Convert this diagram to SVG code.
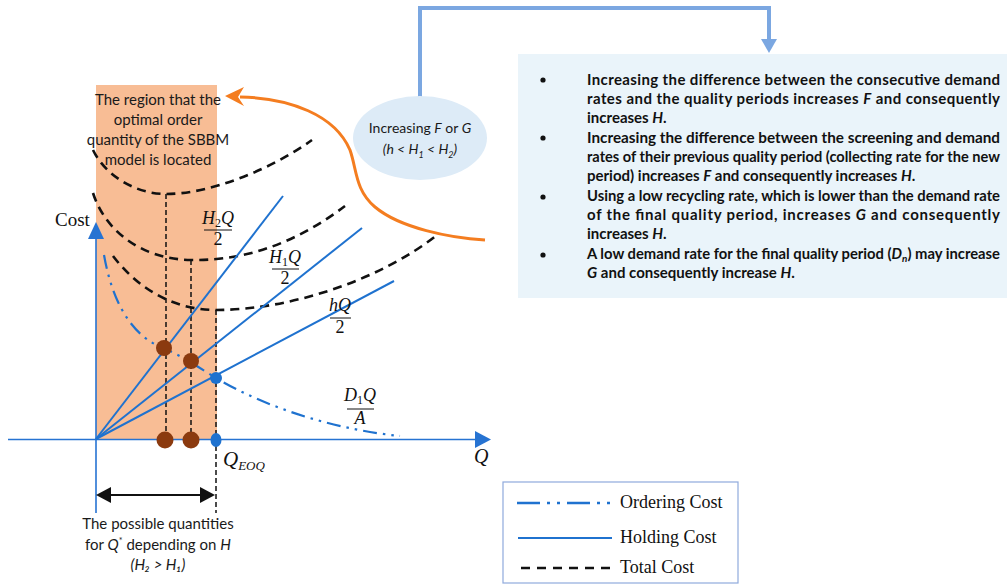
<svg xmlns="http://www.w3.org/2000/svg" width="1007" height="586" viewBox="0 0 1007 586">
<style>
.sans{font-family:Lato,"Liberation Sans",sans-serif;fill:#1a1a1a}
.serif{font-family:"Liberation Serif","DejaVu Serif",serif;fill:#111}
.math{font-family:"Liberation Serif","DejaVu Serif",serif;font-style:italic;font-size:18px;fill:#111}
.up{font-style:normal}
.total{fill:none;stroke:#111;stroke-width:2.6;stroke-dasharray:9 6}
.guide{fill:none;stroke:#111;stroke-width:1.5;stroke-dasharray:5 3}
.hold{fill:none;stroke:#1F72CF;stroke-width:2}
.order{fill:none;stroke:#1F72CF;stroke-width:2.2;stroke-dasharray:14 6 2.5 6 2.5 6}
.axis{fill:none;stroke:#2673D2;stroke-width:1.6}
.frac{stroke:#111;stroke-width:1}
.bul{font-family:Lato,"Liberation Sans",sans-serif;font-weight:bold;font-size:15px;fill:#111}
.it{font-style:italic}
</style>

<!-- orange region -->
<g id="region">
<rect x="96" y="85" width="121" height="355" fill="#F8BD95"/>
<text class="sans" font-size="15" text-anchor="middle"><tspan x="158" y="105">The region that the</tspan><tspan x="158" y="125">optimal order</tspan><tspan x="158" y="145">quantity of the SBBM</tspan><tspan x="158" y="165">model is located</tspan></text>
</g>

<!-- axes -->
<g id="axes">
<line class="axis" x1="96" y1="236" x2="96" y2="513"/>
<polygon points="88,239 104,239 96,222" fill="#2673D2"/>
<line class="axis" x1="8" y1="439.5" x2="477" y2="439.5"/>
<polygon points="475,431 475,448 491,439.5" fill="#2673D2"/>
<text class="serif" x="55" y="226" font-size="19">Cost</text>
<text class="serif" x="474" y="463" font-size="20" font-style="italic">Q</text>
<text class="serif" x="223" y="466" font-size="21" font-style="italic">Q<tspan font-size="13" dy="4">EOQ</tspan></text>
</g>

<!-- connectors / curves -->
<g id="connectors">
<path class="total" d="M93,150 C105,175 135,194 166,194 C210,194 270,170 312,140"/>
<path class="total" d="M93,193 C105,230 140,259 191,260 C250,261 300,240 345,206"/>
<path class="total" d="M113,256 C135,285 170,310 216,310 C290,310 380,280 437,235"/>
<line class="guide" x1="166" y1="194" x2="166" y2="432"/>
<line class="guide" x1="191" y1="260" x2="191" y2="432"/>
<line class="guide" x1="216" y1="310" x2="216" y2="513"/>
<line class="hold" x1="96" y1="439" x2="283" y2="196"/>
<line class="hold" x1="96" y1="439" x2="362" y2="228"/>
<line class="hold" x1="96" y1="439" x2="394" y2="281"/>
<path class="order" d="M104,255 C112,300 130,335 163,348 C180,355 200,368 216,378 C270,410 340,430 400,436"/>
<!-- double arrow -->
<line x1="108" y1="495" x2="203" y2="495" stroke="#111" stroke-width="2"/>
<polygon points="96,495 111,487 111,503" fill="#111"/>
<polygon points="215,495 200,487 200,503" fill="#111"/>
<!-- orange arrow -->
<path d="M485,240 C450,238 400,228 375,207 C355,190 357,170 350,150 C335,115 290,98 240,97" fill="none" stroke="#F47D20" stroke-width="3"/>
<polygon points="225,96 244,87 238,97 244,106" fill="#F47D20"/>
<!-- blue connector -->
<path d="M420,97 L420,8 L769,8 L769,40" fill="none" stroke="#7BA7E1" stroke-width="4"/>
<polygon points="761,39 777,39 769,53" fill="#7BA7E1"/>
</g>

<!-- dots -->
<g id="points">
<circle cx="164" cy="348" r="8" fill="#8B3A0F"/>
<circle cx="191" cy="361" r="8" fill="#8B3A0F"/>
<circle cx="216" cy="378" r="6" fill="#1F72CF"/>
<circle cx="165" cy="440" r="8.5" fill="#8B3A0F"/>
<circle cx="191" cy="440" r="8.5" fill="#8B3A0F"/>
<ellipse cx="216" cy="440" rx="5.5" ry="7" fill="#1F72CF"/>
</g>

<!-- fraction labels -->
<g id="labels">
<text class="math" x="218" y="224" text-anchor="middle">H<tspan class="up" font-size="12" dy="3">2</tspan><tspan dy="-3">Q</tspan></text>
<line class="frac" x1="204" y1="230" x2="232" y2="230"/>
<text class="math up" x="218" y="245" text-anchor="middle">2</text>
<text class="math" x="285" y="263" text-anchor="middle">H<tspan class="up" font-size="12" dy="3">1</tspan><tspan dy="-3">Q</tspan></text>
<line class="frac" x1="272" y1="269" x2="299" y2="269"/>
<text class="math up" x="285" y="284" text-anchor="middle">2</text>
<text class="math" x="340" y="311" text-anchor="middle">hQ</text>
<line class="frac" x1="330" y1="318" x2="351" y2="318"/>
<text class="math up" x="340" y="333" text-anchor="middle">2</text>
<text class="math" x="360" y="401" text-anchor="middle">D<tspan class="up" font-size="12" dy="3">1</tspan><tspan dy="-3">Q</tspan></text>
<line class="frac" x1="347" y1="409" x2="374" y2="409"/>
<text class="math" x="360" y="424" text-anchor="middle">A</text>
</g>

<!-- bottom text -->
<g id="possible">
<text class="sans" font-size="15" text-anchor="middle"><tspan x="158" y="529">The possible quantities</tspan><tspan x="158" y="550">for <tspan class="it">Q</tspan><tspan font-size="9" dy="-6">*</tspan><tspan dy="6"> depending on </tspan><tspan class="it">H</tspan></tspan><tspan x="158" y="570" class="it">(H₂ &gt; H₁)</tspan></text>
</g>

<!-- ellipse -->
<g id="cause">
<ellipse cx="420" cy="138" rx="67" ry="42" fill="#DDEBF7"/>
<text class="sans" font-size="14" text-anchor="middle" fill="#333"><tspan x="420" y="133">Increasing <tspan class="it">F</tspan> or <tspan class="it">G</tspan></tspan><tspan x="420" y="154" class="it">(h &lt; H<tspan font-size="9" dy="4">1</tspan><tspan dy="-4"> &lt; H</tspan><tspan font-size="9" dy="4">2</tspan><tspan dy="-4">)</tspan></tspan></text>
</g>

<!-- effects box -->
<g id="effects">
<rect x="518" y="54" width="489" height="244" fill="#EAF4FA"/>
<circle cx="543" cy="80" r="2.6" fill="#111"/>
<circle cx="543" cy="138" r="2.6" fill="#111"/>
<circle cx="543" cy="197" r="2.6" fill="#111"/>
<circle cx="543" cy="255" r="2.6" fill="#111"/>
<text class="bul" x="587" y="85" textLength="413" lengthAdjust="spacing">Increasing the difference between the consecutive demand</text>
<text class="bul" x="587" y="104" textLength="413" lengthAdjust="spacing">rates and the quality periods increases <tspan class="it">F</tspan> and consequently</text>
<text class="bul" x="587" y="123">increases <tspan class="it">H</tspan>.</text>
<text class="bul" x="587" y="143" textLength="413" lengthAdjust="spacingAndGlyphs">Increasing the difference between the screening and demand</text>
<text class="bul" x="587" y="162" font-size="13.6" textLength="413" lengthAdjust="spacingAndGlyphs">rates of their previous quality period (collecting rate for the new</text>
<text class="bul" x="587" y="181">period) increases <tspan class="it">F</tspan> and consequently increases <tspan class="it">H</tspan>.</text>
<text class="bul" x="587" y="201" textLength="413" lengthAdjust="spacingAndGlyphs">Using a low recycling rate, which is lower than the demand rate</text>
<text class="bul" x="587" y="220" textLength="413" lengthAdjust="spacing">of the final quality period, increases <tspan class="it">G</tspan> and consequently</text>
<text class="bul" x="587" y="239">increases <tspan class="it">H</tspan>.</text>
<text class="bul" x="587" y="259" textLength="413" lengthAdjust="spacingAndGlyphs">A low demand rate for the final quality period (<tspan class="it">D</tspan><tspan class="it" font-size="10" dy="3">n</tspan><tspan dy="-3">) may increase</tspan></text>
<text class="bul" x="587" y="278"><tspan class="it">G</tspan> and consequently increase <tspan class="it">H</tspan>.</text>
</g>

<!-- legend -->
<g id="legend">
<rect x="503" y="482" width="235" height="101" fill="#fff" stroke="#8FAADC" stroke-width="1.2"/>
<line x1="517" y1="503" x2="612" y2="503" stroke="#1F72CF" stroke-width="2.4" stroke-dasharray="23 7 3 7 3 7"/>
<line x1="518" y1="538" x2="612" y2="538" stroke="#1F72CF" stroke-width="2"/>
<line x1="521" y1="568" x2="612" y2="568" stroke="#111" stroke-width="2.6" stroke-dasharray="9 7"/>
<text class="serif" x="620" y="508" font-size="18">Ordering Cost</text>
<text class="serif" x="620" y="543" font-size="18">Holding Cost</text>
<text class="serif" x="620" y="573" font-size="18">Total Cost</text>
</g>
</svg>
